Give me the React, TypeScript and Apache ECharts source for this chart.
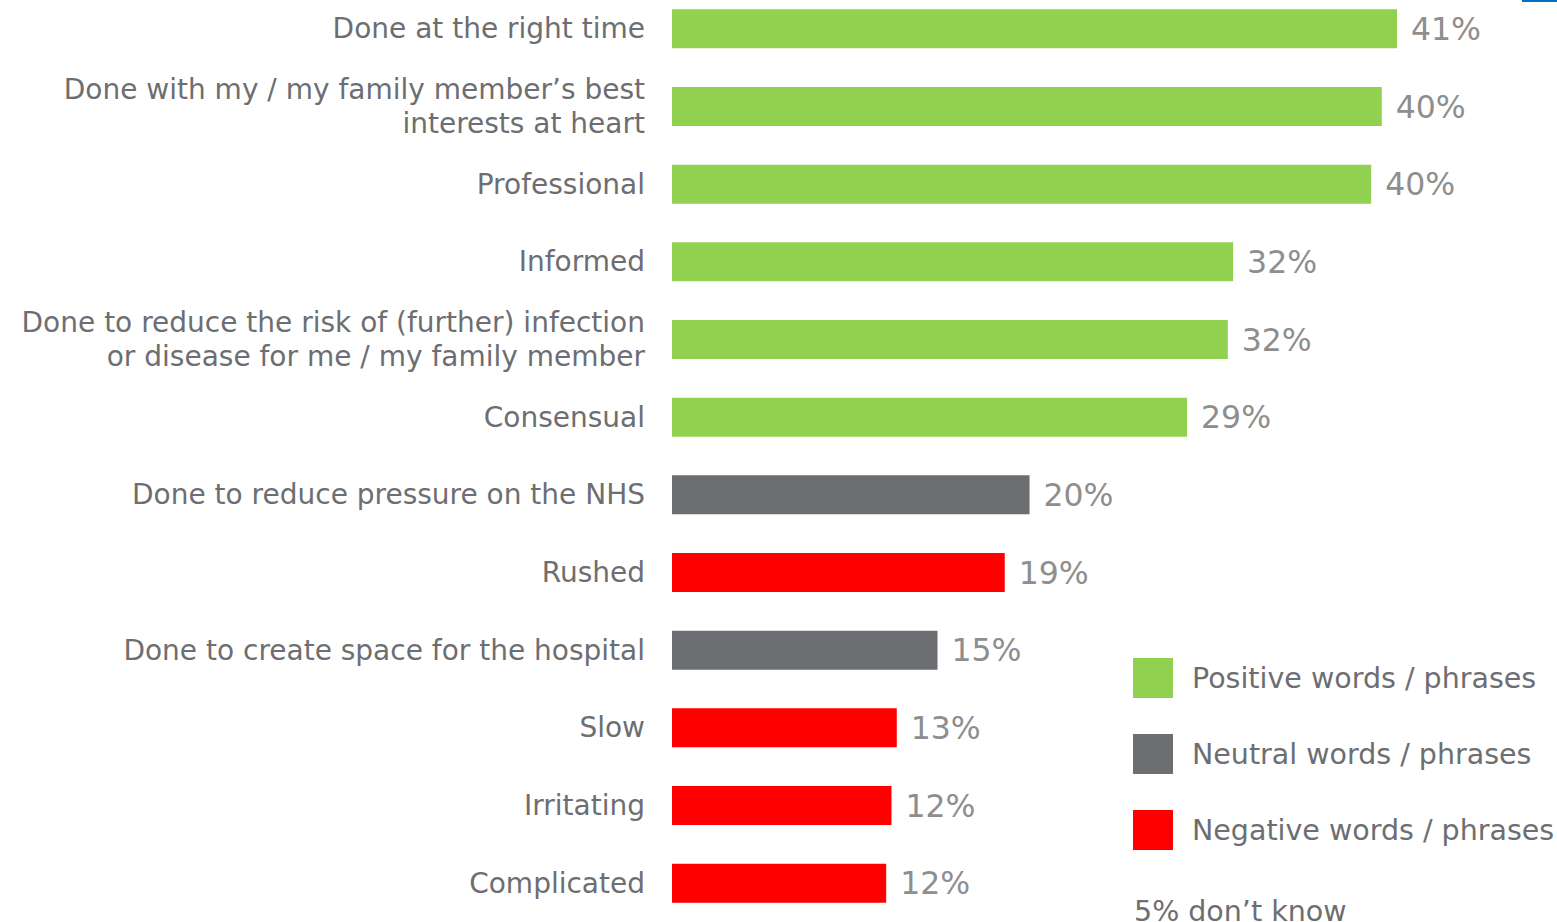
import React, { useEffect, useRef } from "react";
import * as echarts from "echarts";

const categories = [
  "Done at the right time",
  "Done with my / my family member’s best\ninterests at heart",
  "Professional",
  "Informed",
  "Done to reduce the risk of (further) infection\nor disease for me / my family member",
  "Consensual",
  "Done to reduce pressure on the NHS",
  "Rushed",
  "Done to create space for the hospital",
  "Slow",
  "Irritating",
  "Complicated",
];
const values = [40.96, 40.1, 39.5, 31.7, 31.4, 29.1, 20.2, 18.8, 15.0, 12.7, 12.4, 12.1];
const valueLabels = ["41%", "40%", "40%", "32%", "32%", "29%", "20%", "19%", "15%", "13%", "12%", "12%"];
const groupOf = ["pos", "pos", "pos", "pos", "pos", "pos", "neu", "neg", "neu", "neg", "neg", "neg"];
const groups = [
  { key: "pos", name: "Positive words / phrases", color: "#92D050" },
  { key: "neu", name: "Neutral words / phrases", color: "#6D6E71" },
  { key: "neg", name: "Negative words / phrases", color: "#FF0000" },
];
const dontKnow = "5% don’t know";

const FONT = "DejaVu Sans";
const SHIFT = 10;

export default function App() {
  const ref = useRef<HTMLDivElement>(null);
  useEffect(() => {
    if (!ref.current) return;
    const chart = echarts.init(ref.current, null, { renderer: "svg" });
    const series = groups.map((g) => ({
      name: g.name,
      type: "bar",
      stack: "all",
      barWidth: 39,
      itemStyle: { color: g.color },
      data: values.map((v, i) => (groupOf[i] === g.key ? v : "-")),
      label: {
        show: true,
        position: "right",
        distance: 14,
        fontFamily: FONT,
        fontSize: 31.5,
        color: "#8E8E8E",
        formatter: (p: any) => valueLabels[p.dataIndex],
      },
    }));
    chart.setOption({
      animation: false,
      grid: { left: 672, right: 0, top: 0, bottom: 0, containLabel: false },
      xAxis: {
        type: "value",
        min: 0,
        max: 50,
        show: false,
      },
      yAxis: {
        type: "category",
        inverse: true,
        data: categories,
        axisLine: { show: false },
        axisTick: { show: false },
        axisLabel: {
          margin: 27,
          fontFamily: FONT,
          fontSize: 28,
          lineHeight: 34,
          color: "#6D6E71",
          align: "right",
        },
      },
      legend: {
        orient: "vertical",
        left: 1133,
        top: 658 + SHIFT,
        padding: 0,
        itemWidth: 40,
        itemHeight: 40,
        itemGap: 36,
        icon: "rect",
        selectedMode: false,
        textStyle: {
          fontFamily: FONT,
          fontSize: 28.5,
          color: "#6D6E71",
          padding: [0, 0, 0, 14],
        },
        data: groups.map((g) => g.name),
      },
      graphic: [
        {
          type: "text",
          left: 1134,
          top: 897 + SHIFT,
          style: { text: dontKnow, fontFamily: FONT, fontSize: 28.5, fill: "#6D6E71" },
        },
        {
          type: "rect",
          shape: { x: 1522, y: SHIFT, width: 35, height: 2 },
          style: { fill: "#0070C0" },
        },
      ],
      series,
    });
    return () => chart.dispose();
  }, []);
  return (
    <div
      ref={ref}
      style={{ position: "fixed", left: 0, top: -SHIFT, width: 1557, height: 922 + SHIFT, background: "#fff" }}
    />
  );
}
